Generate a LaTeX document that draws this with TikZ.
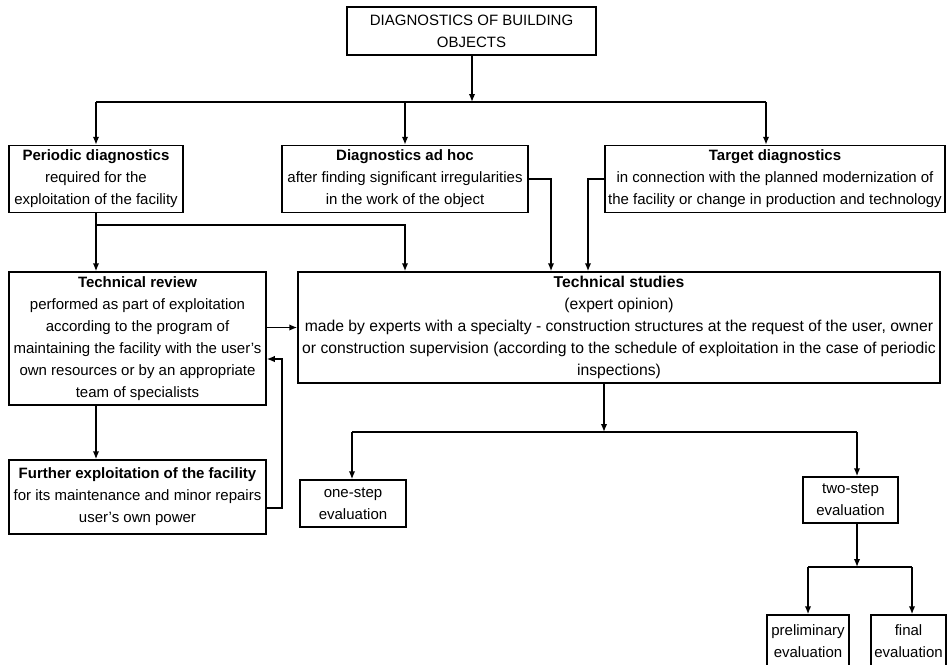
\documentclass[tikz,border=0pt]{standalone}
\usepackage{fontspec}
\setmainfont{Liberation Sans}
\usetikzlibrary{arrows.meta}
\begin{document}
\begin{tikzpicture}[x=1pt,y=-1pt,
  box/.style={draw, line width=1.5pt, inner sep=0pt, align=center,
    font=\fontsize{15}{22}\selectfont},
  conn/.style={line width=1.5pt},
  arr/.style={conn, -{Latex[length=8pt,width=6.5pt]}}]
\useasboundingbox (0,0) rectangle (947,664);
% nodes
\node[box, minimum width=249pt, minimum height=48pt] (top) at (471.5,31) {DIAGNOSTICS OF BUILDING\\OBJECTS};
\node[box, minimum width=174pt, minimum height=67pt] (periodic) at (96,179) {\textbf{Periodic diagnostics}\\required for the\\exploitation of the facility};
\node[box, minimum width=246pt, minimum height=67pt] (adhoc) at (405,179) {\textbf{Diagnostics ad hoc}\\after finding significant irregularities\\in the work of the object};
\node[box, minimum width=340pt, minimum height=67pt] (target) at (775,179) {\textbf{Target diagnostics}\\in connection with the planned modernization of\\the facility or change in production and technology};
\node[box, minimum width=257pt, minimum height=133pt] (review) at (137.5,338.5) {\textbf{Technical review}\\performed as part of exploitation\\according to the program of\\maintaining the facility with the user's\\own resources or by an appropriate\\team of specialists};
\node[box, minimum width=642pt, minimum height=111pt, font=\fontsize{15.7}{22}\selectfont] (studies) at (619,327.5) {\textbf{Technical studies}\\(expert opinion)\\made by experts with a specialty - construction structures at the request of the user, owner\\or construction supervision (according to the schedule of exploitation in the case of periodic\\inspections)};
\node[box, minimum width=257pt, minimum height=74pt] (further) at (137.5,497) {\textbf{Further exploitation of the facility}\\for its maintenance and minor repairs\\user's own power};
\node[box, minimum width=106pt, minimum height=47pt] (one) at (353,503.5) {one-step\\evaluation};
\node[box, minimum width=95pt, minimum height=46pt] (two) at (850.5,500) {two-step\\evaluation};
\node[box, minimum width=82pt, minimum height=53pt] (prelim) at (808,641.5) {preliminary\\evaluation};
\node[box, minimum width=75pt, minimum height=53pt] (final) at (908.5,641.5) {final\\evaluation};
% bus coordinates
\coordinate (b1) at (472,102);
\coordinate (b1l) at (96,102);
\coordinate (b1m) at (405,102);
\coordinate (b1r) at (766,102);
\coordinate (b2) at (96,225);
\coordinate (b2r) at (405,225);
\coordinate (s1) at (551,0);
\coordinate (s2) at (588,0);
\coordinate (fb) at (282,508);
\coordinate (b3) at (604,432);
\coordinate (b3l) at (352,432);
\coordinate (b3r) at (857,432);
\coordinate (b4) at (857,567);
\coordinate (b4l) at (808,567);
\coordinate (b4r) at (912,567);
% connectors
\draw[arr] (top.south -| b1) -- (b1);
\draw[conn] (b1l) -- (b1r);
\draw[arr] (b1l) -- (periodic.north);
\draw[arr] (b1m) -- (adhoc.north);
\draw[arr] (b1r) -- (target.north -| b1r);
\draw[arr] (periodic.south) -- (review.north -| periodic.south);
\draw[arr] (b2) -- (b2r) -- (studies.north -| b2r);
\draw[arr] (adhoc.east) -| (studies.north -| s1);
\draw[arr] (target.west) -| (studies.north -| s2);
\draw[arr] (review.east |- studies.west) -- (studies.west);
\draw[arr] (review.south -| periodic.south) -- (further.north -| periodic.south);
\draw[arr] (further.east |- fb) -- (fb) -- (fb |- 0,359) -- (review.east |- 0,359);
\draw[arr] (studies.south -| b3) -- (b3);
\draw[conn] (b3l) -- (b3r);
\draw[arr] (b3l) -- (one.north -| b3l);
\draw[arr] (b3r) -- (two.north -| b3r);
\draw[arr] (two.south -| b4) -- (b4);
\draw[conn] (b4l) -- (b4r);
\draw[arr] (b4l) -- (prelim.north -| b4l);
\draw[arr] (b4r) -- (final.north -| b4r);
\end{tikzpicture}
\end{document}
